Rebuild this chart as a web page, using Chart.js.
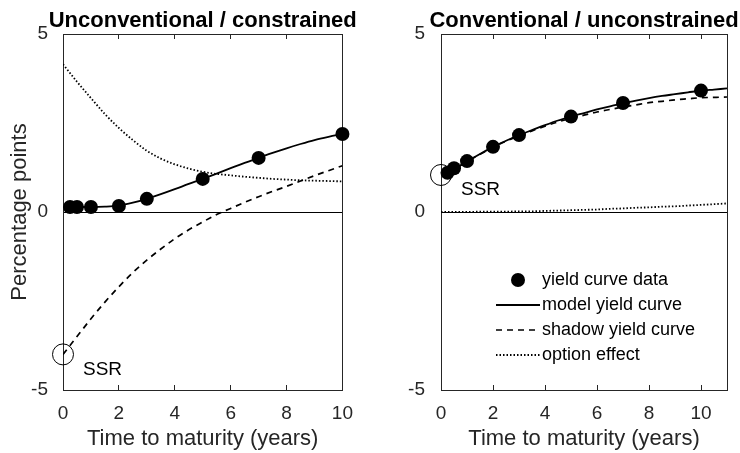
<!DOCTYPE html>
<html>
<head>
<meta charset="utf-8">
<script src="https://cdn.jsdelivr.net/npm/chart.js@4.4.0/dist/chart.umd.min.js"></script>
<style>
  html, body { margin: 0; padding: 0; background: #fff; }
  #wrap { display: flex; width: 740px; height: 453px; }
  canvas { display: block; }
</style>
</head>
<body>
<div id="wrap">
  <canvas id="grafico01" width="370" height="453"></canvas>
  <canvas id="grafico02" width="370" height="453"></canvas>
</div>
<script>
// maturities of the observed yields (years)
const maturities = [0.25, 0.5, 1, 2, 3, 5, 7, 10];

// left panel: unconventional / constrained
const dataLeft = [0.14, 0.14, 0.14, 0.17, 0.37, 0.93, 1.52, 2.19];
const gridLeft = [0, 0.5, 1, 1.5, 2, 2.5, 3, 3.5, 4, 4.5, 5, 5.5, 6, 6.5, 7, 7.5, 8, 8.5, 9, 9.5, 10];
const modelLeft = [0.14, 0.14, 0.14, 0.15, 0.18, 0.26, 0.37, 0.5, 0.64, 0.79, 0.93, 1.08, 1.23, 1.38, 1.52, 1.66, 1.79, 1.91, 2.02, 2.11, 2.19];
const shadowLeft = [-4.0, -3.5, -3.0, -2.53, -2.1, -1.7, -1.35, -1.04, -0.75, -0.5, -0.28, -0.07, 0.1, 0.27, 0.43, 0.58, 0.72, 0.87, 1.02, 1.16, 1.3];
const optionLeft = [4.15, 3.66, 3.2, 2.75, 2.36, 2.02, 1.72, 1.5, 1.34, 1.22, 1.13, 1.07, 1.03, 0.99, 0.96, 0.93, 0.91, 0.89, 0.88, 0.87, 0.86];
const ssrLeft = -4.0;

// right panel: conventional / unconstrained
const dataRight = [1.10, 1.23, 1.43, 1.83, 2.16, 2.68, 3.06, 3.41];
const gridRight = [0, 0.5, 1, 1.5, 2, 2.5, 3, 3.5, 4, 4.5, 5, 5.5, 6, 6.5, 7, 7.5, 8, 8.5, 9, 9.5, 10, 10.5, 11];
const modelRight = [1.04, 1.2, 1.42, 1.63, 1.83, 2.0, 2.16, 2.3, 2.44, 2.57, 2.68, 2.78, 2.88, 2.97, 3.05, 3.13, 3.2, 3.26, 3.31, 3.36, 3.41, 3.44, 3.47];
const shadowRight = [1.04, 1.2, 1.42, 1.62, 1.82, 1.99, 2.14, 2.28, 2.41, 2.53, 2.63, 2.72, 2.81, 2.88, 2.95, 3.01, 3.07, 3.11, 3.15, 3.18, 3.21, 3.22, 3.23];
const optionRight = [0, 0, 0, 0.01, 0.01, 0.01, 0.02, 0.02, 0.03, 0.04, 0.05, 0.06, 0.07, 0.09, 0.1, 0.12, 0.13, 0.15, 0.16, 0.18, 0.2, 0.22, 0.24];
const ssrRight = 1.04;

// axes
const xTicks = [0, 2, 4, 6, 8, 10];
const yTicks = [5, 0, -5];
const legendLabels = ['yield curve data', 'model yield curve', 'shadow yield curve', 'option effect'];

const FONT = '"Liberation Sans", Arial, Helvetica, sans-serif';
const GREY = '#262626';
Chart.defaults.font.family = FONT;

// bold title centred over the plot box
const panelTitle = {
    id: 'panelTitle',
    afterDraw(chart, args, opts) {
        const ca = chart.chartArea, ctx = chart.ctx;
        ctx.save();
        ctx.font = 'bold 22px ' + FONT;
        ctx.fillStyle = '#000';
        ctx.textAlign = 'center';
        ctx.textBaseline = 'alphabetic';
        ctx.fillText(opts.text, (ca.left + ca.right) / 2, 27);
        ctx.restore();
    }
};

// "SSR" note next to the circled short rate
const ssrLabel = {
    id: 'ssrLabel',
    afterDatasetsDraw(chart, args, opts) {
        const ctx = chart.ctx;
        const px = chart.scales.x.getPixelForValue(opts.x);
        const py = chart.scales.y.getPixelForValue(opts.y);
        ctx.save();
        ctx.font = '19px ' + FONT;
        ctx.fillStyle = '#000';
        ctx.textAlign = 'left';
        ctx.textBaseline = 'middle';
        ctx.fillText('SSR', px + 20, py + 15);
        ctx.restore();
    }
};

// legend inside the right box, no frame
const boxLegend = {
    id: 'boxLegend',
    afterDraw(chart, args, opts) {
        if (!opts.show) return;
        const ctx = chart.ctx, ca = chart.chartArea;
        const x0 = ca.left + 55, x1 = ca.left + 99, xt = ca.left + 101;
        ctx.save();
        legendLabels.forEach((label, i) => {
            const ds = chart.data.datasets[i];
            const y = ca.top + 246 + i * 25;
            if (i === 0) {
                ctx.fillStyle = '#000';
                ctx.beginPath();
                ctx.arc((x0 + x1) / 2, y, 7, 0, Math.PI * 2);
                ctx.fill();
            } else {
                ctx.strokeStyle = ds.borderColor;
                ctx.lineWidth = ds.borderWidth;
                ctx.setLineDash(ds.borderDash || []);
                ctx.beginPath();
                ctx.moveTo(x0, y);
                ctx.lineTo(x1, y);
                ctx.stroke();
                ctx.setLineDash([]);
            }
            ctx.font = '18px ' + FONT;
            ctx.fillStyle = '#000';
            ctx.textAlign = 'left';
            ctx.textBaseline = 'middle';
            ctx.fillText(label, xt, y);
        });
        ctx.restore();
    }
};

function puntos(xs, ys) {
    return xs.map((x, i) => ({ x: x, y: ys[i] }));
}

function crearPanel(canvasId, p) {
    const setXTicks = s => { s.ticks = xTicks.map(v => ({ value: v })); };
    const xGrid = { drawOnChartArea: false, drawTicks: true, tickLength: -5, color: GREY, lineWidth: 1 };
    const border = { display: true, color: GREY, width: 1 };

    const config = {
        type: 'line',
        data: {
            datasets: [
                {
                    label: legendLabels[0],
                    data: puntos(maturities, p.data),
                    showLine: false,
                    pointRadius: 7,
                    pointBackgroundColor: '#000',
                    pointBorderColor: '#000',
                    pointBorderWidth: 0,
                    clip: false,
                },
                {
                    label: legendLabels[1],
                    data: puntos(p.grid, p.model),
                    borderColor: '#000',
                    borderWidth: 1.8,
                    pointRadius: 0,
                    cubicInterpolationMode: 'monotone',
                },
                {
                    label: legendLabels[2],
                    data: puntos(p.grid, p.shadow),
                    borderColor: '#000',
                    borderWidth: 1.7,
                    borderDash: [6, 5],
                    pointRadius: 0,
                    cubicInterpolationMode: 'monotone',
                },
                {
                    label: legendLabels[3],
                    data: puntos(p.grid, p.option),
                    borderColor: '#000',
                    borderWidth: 1.8,
                    borderDash: [1.5, 2],
                    pointRadius: 0,
                    cubicInterpolationMode: 'monotone',
                },
                {
                    label: 'SSR',
                    data: [{ x: 0, y: p.ssr }],
                    showLine: false,
                    pointRadius: 10.5,
                    pointBackgroundColor: 'rgba(0,0,0,0)',
                    pointBorderColor: '#000',
                    pointBorderWidth: 1,
                    clip: false,
                },
            ],
        },
        options: {
            responsive: false,
            animation: false,
            devicePixelRatio: 1,
            layout: { padding: { top: 34, right: p.padRight, bottom: 0, left: 0 } },
            plugins: {
                legend: { display: false },
                tooltip: { enabled: false },
                panelTitle: { text: p.title },
                ssrLabel: { x: 0, y: p.ssr },
                boxLegend: { show: p.legend },
            },
            scales: {
                x: {
                    type: 'linear', position: 'bottom', min: 0, max: p.xMax,
                    afterBuildTicks: setXTicks,
                    afterFit: s => { s.height = 63; },
                    grid: xGrid,
                    border: border,
                    ticks: { padding: 17, color: GREY, font: { size: 19 }, maxRotation: 0, autoSkip: false },
                    title: { display: true, text: 'Time to maturity (years)', color: GREY, font: { size: 22 }, padding: { top: 0, bottom: 1 } },
                },
                xTop: {
                    type: 'linear', position: 'top', min: 0, max: p.xMax,
                    afterBuildTicks: setXTicks,
                    afterFit: s => { s.height = 0; },
                    grid: xGrid,
                    border: border,
                    ticks: { display: false },
                },
                y: {
                    type: 'linear', position: 'left', min: -5, max: 5,
                    afterBuildTicks: s => { s.ticks = yTicks.map(v => ({ value: v })); },
                    afterFit: s => { s.width = p.yWidth; },
                    grid: {
                        drawTicks: false,
                        lineWidth: 1,
                        color: c => (c.tick && c.tick.value === 0) ? '#000' : 'rgba(0,0,0,0)',
                    },
                    border: border,
                    ticks: { padding: p.yPad, color: GREY, font: { size: 19 } },
                    title: { display: p.yTitle, text: 'Percentage points', color: GREY, font: { size: 22 }, padding: { top: 7, bottom: 0 } },
                },
                yRight: {
                    type: 'linear', position: 'right', min: -5, max: 5,
                    afterFit: s => { s.width = 0; },
                    grid: { display: false },
                    border: border,
                    ticks: { display: false },
                },
            },
        },
        plugins: [panelTitle, ssrLabel, boxLegend],
    };

    const ctx = document.getElementById(canvasId).getContext('2d');
    return new Chart(ctx, config);
}

crearPanel('grafico01', {
    title: 'Unconventional / constrained',
    data: dataLeft, grid: gridLeft, model: modelLeft, shadow: shadowLeft, option: optionLeft, ssr: ssrLeft,
    xMax: 10, padRight: 20, yWidth: 63, yPad: 15, yTitle: true, legend: false,
});

crearPanel('grafico02', {
    title: 'Conventional / unconstrained',
    data: dataRight, grid: gridRight, model: modelRight, shadow: shadowRight, option: optionRight, ssr: ssrRight,
    xMax: 11, padRight: 13, yWidth: 71, yPad: 16, yTitle: false, legend: true,
});
</script>
</body>
</html>
